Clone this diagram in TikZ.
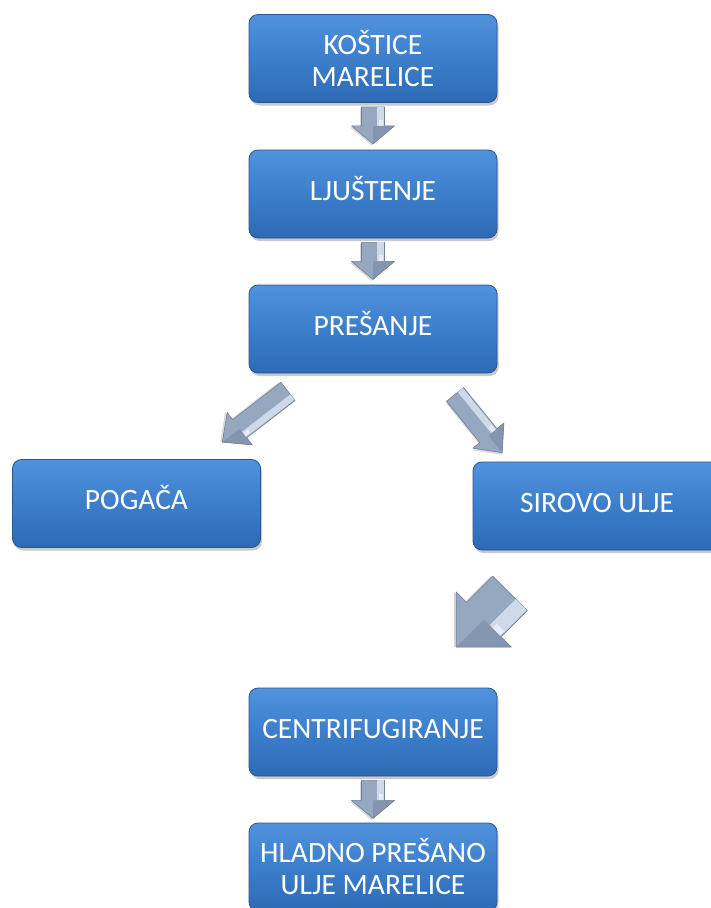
\documentclass[tikz,border=0pt]{standalone}
\usepackage{fontspec}
\setmainfont{Carlito}
\usetikzlibrary{shadows,calc}

\definecolor{boxtop}{RGB}{80,146,220}
\definecolor{boxmid}{RGB}{60,126,202}
\definecolor{boxbot}{RGB}{46,106,180}
\definecolor{boxedge}{RGB}{38,86,150}
\definecolor{arrbase}{RGB}{150,167,192}
\definecolor{arrlight}{RGB}{206,217,233}
\definecolor{arrdark}{RGB}{112,128,155}

\tikzset{
  stepbox/.style={rectangle, rounded corners=9pt, minimum width=248pt, minimum height=88pt,
    top color=boxtop, bottom color=boxbot, middle color=boxmid,
    draw=boxedge, line width=0.8pt, text=white,
    font=\fontsize{29.5}{32}\selectfont, align=center,
    drop shadow={shadow xshift=1.5pt, shadow yshift=-3pt, opacity=0.35, fill=black!60}},
  oneline/.style={text height=20pt, text depth=8pt},
  arrbody/.style={fill=arrbase, draw=arrdark, line width=0.6pt, line join=round},
  arrhi/.style={fill=arrlight},
}

% #1 tail midpoint, #2 angle, #3 length, #4 shaft width, #5 head width, #6 head length
\newcommand\blockarr[6]{%
\begin{scope}[shift={#1}, rotate=#2]
  \fill[black, opacity=0.15, shift={(1.5,1.5)}] (0,-#4/2) -- (#3-#6,-#4/2) -- (#3-#6,-#5/2) -- (#3,0) -- (#3-#6,#5/2) -- (#3-#6,#4/2) -- (0,#4/2) -- cycle;
  \path[arrbody] (0,-#4/2) -- (#3-#6,-#4/2) -- (#3-#6,-#5/2) -- (#3,0) -- (#3-#6,#5/2) -- (#3-#6,#4/2) -- (0,#4/2) -- cycle;
  \fill[arrhi] (0,-#4/2+1) -- (#3-#6,-#4/2+1) -- (#3-#6,-#4/6) -- (0,-#4/6) -- cycle;
  \fill[white, opacity=0.55] (#3-#6-6,-#4/2+2) -- (#3-#6,-#4/2+2) -- (#3-#6,-#4/4) -- (#3-#6-6,-#4/4) -- cycle;
  \fill[arrdark, opacity=0.45] (#3-#6,-#5/2) -- (#3,0) -- (#3-#6,0) -- cycle;
\end{scope}}

\begin{document}
\begin{tikzpicture}[x=1pt,y=-1pt]
\useasboundingbox (0,0) rectangle (710,908);
\fill[white] (0,0) rectangle (710,908);

\node[stepbox] (K) at (373,58.5) {KOŠTICE\\MARELICE};
\node[stepbox, oneline] (L) at (373,194) {LJUŠTENJE};
\node[stepbox, oneline] (P) at (373,329) {PREŠANJE};
\node[stepbox, oneline] (G) at (136.5,503.5) {POGAČA};
\node[stepbox, oneline] (S) at (597,506) {SIROVO ULJE};
\node[stepbox, oneline] (C) at (373,732) {CENTRIFUGIRANJE};
\node[stepbox] (H) at (373,867) {HLADNO PREŠANO\\ULJE MARELICE};

\blockarr{($(K.south)+(0,4)$)}{270}{37}{23}{43}{18}
\blockarr{($(L.south)+(0,4)$)}{270}{37}{23}{43}{18}
\blockarr{($(P.south)+(-85,18)$)}{217.7}{83}{23}{41}{22}
\blockarr{($(P.south)+(82,21)$)}{-51}{75}{22}{40}{22}
\blockarr{($(S.south)+(-87,43)$)}{225}{76}{49}{78}{39}
\blockarr{($(C.south)+(0,4)$)}{270}{38}{23}{43}{18}
\end{tikzpicture}
\end{document}
